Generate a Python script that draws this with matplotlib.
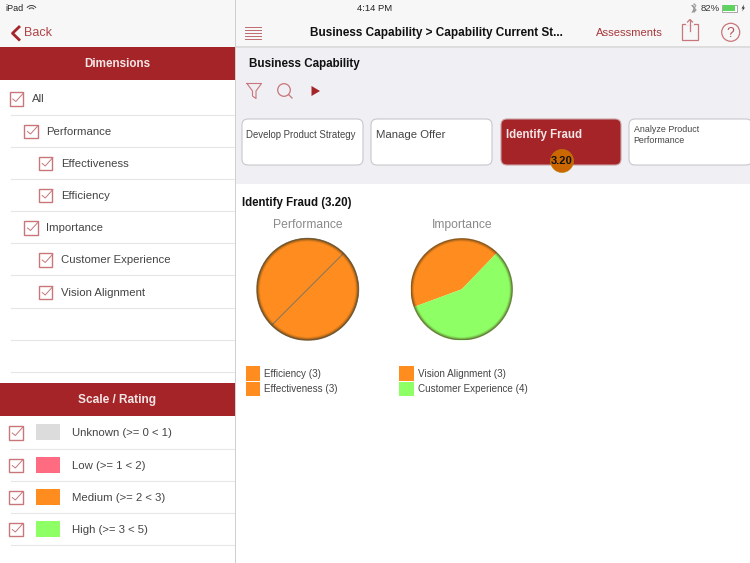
import matplotlib
matplotlib.use("Agg")
import matplotlib.pyplot as plt
from matplotlib.patches import Rectangle, FancyBboxPatch, Circle, Polygon, Wedge

plt.rcParams['font.family'] = ['Liberation Sans', 'DejaVu Sans']

RED = '#A52428'
ORANGE = '#FF8C1E'
GREEN = '#8FFF66'
PINK = '#FF6B81'
GREY = '#DCDCDC'
TEXT = '#444444'
SOFT = '#C8767A'

dimension_labels = ['All', 'Performance', 'Effectiveness', 'Efficiency', 'Importance',
                    'Customer Experience', 'Vision Alignment']
dimension_levels = [0, 1, 2, 2, 1, 2, 2]
scale_labels = ['Unknown (>= 0 < 1)', 'Low (>= 1 < 2)', 'Medium (>= 2 < 3)', 'High (>= 3 < 5)']
scale_colors = [GREY, PINK, ORANGE, GREEN]
card_labels = ['Develop Product Strategy', 'Manage Offer', 'Identify Fraud',
               'Analyze Product\nPerformance']
perf_labels = ['Efficiency', 'Effectiveness']
perf_values = [3, 3]
imp_labels = ['Vision Alignment', 'Customer Experience']
imp_values = [3, 4]
score = 3.20

fig = plt.figure(figsize=(7.5, 5.63), dpi=100, facecolor='white')
ax = fig.add_axes([0, 0, 1, 1])
ax.set_xlim(0, 750)
ax.set_ylim(563, 0)
ax.axis('off')


def rect(x0, y0, x1, y1, c, z=1, **k):
    ax.add_patch(Rectangle((x0, y0), x1 - x0, y1 - y0, facecolor=c, edgecolor='none', zorder=z, **k))


def label(x, y, s, size=8.2, color=TEXT, weight='normal', ha='left', z=5, **k):
    ax.text(x, y + 0.8, s, fontsize=size, color=color, fontweight=weight, ha=ha, va='center', zorder=z, **k)


def checkbox(x, y):
    ax.add_patch(Rectangle((x, y - 6.5), 13.5, 13.5, facecolor='white', edgecolor=SOFT, lw=1, zorder=3))
    ax.plot([x + 3.3, x + 6.3, x + 14], [y + 0.5, y + 3, y - 5.5], color=SOFT, lw=0.7, zorder=4)


# chrome
rect(0, 0, 750, 47, '#F7F7F7')
rect(235, 47, 750, 184, '#EFEFF4')
rect(235, 46, 750, 47.5, '#DDDDDD', z=2)
rect(234.5, 0, 236, 563, '#CFCFCF', z=6)

# status bar
label(5, 7.5, 'iPad', size=6.5, color='#222222')
ax.add_patch(Wedge((31.5, 11), 6, 215, 325, width=1, facecolor='#444444', edgecolor='none', zorder=5))
ax.add_patch(Wedge((31.5, 11), 3.6, 215, 325, width=1, facecolor='#444444', edgecolor='none', zorder=5))
label(375, 7.5, '4:14 PM', size=6.8, color='#222222', ha='center')
label(710.5, 7.5, '82%', size=6.8, color='#333333', ha='center')
ax.plot([692, 696, 692, 696, 694, 694, 696, 692], [5.5, 10, 12.5, 5.5, 3.5, 12.5, 10, 5.5][:8],
        color='#999999', lw=0.6, zorder=5)
ax.add_patch(Rectangle((722, 4.5), 15, 7, facecolor='white', edgecolor='#888888', lw=0.5, zorder=3))
rect(722.5, 5, 734.5, 11, '#5FD35F', z=4)
ax.add_patch(Polygon([[744, 4.5], [741.5, 8.5], [743, 8.5], [742, 11.5], [745, 7.5], [743.5, 7.5]],
                     closed=True, facecolor='#333333', edgecolor='none', zorder=5))

# left nav
ax.plot([19, 12.5, 19], [27, 33.3, 39.6], color=RED, lw=2, zorder=5)
label(24, 32.5, 'Back', size=9, color=RED, alpha=0.85)

# Dimensions panel
rect(0, 47, 235, 80, RED, z=2)
label(117.5, 63.5, 'Dimensions', size=8.4, color='#F4E6E6', weight='bold', ha='center')
rows_y = [98.5, 131, 163, 195, 227.5, 259.5, 292]
for y, s, lv in zip(rows_y, dimension_labels, dimension_levels):
    x = 9.5 + lv * 14.7
    checkbox(x, y)
    label(x + 22, y, s)
for y in [114.5, 146.5, 179, 211, 243, 275, 307.5, 340, 372]:
    ax.plot([11, 234], [y, y], color='#E6E6E6', lw=0.8, zorder=2)

# Scale panel
rect(0, 383, 235, 416, RED, z=2)
label(117.5, 399.5, 'Scale / Rating', size=8.6, color='#F4E6E6', weight='bold', ha='center')
scale_y = [432.5, 465, 497, 529]
for y, s, c in zip(scale_y, scale_labels, scale_colors):
    checkbox(9, y)
    rect(36, y - 8.5, 60, y + 7.5, c, z=3)
    label(72, y, s)
for y in [448.5, 481, 513, 545]:
    ax.plot([11, 234], [y, y], color='#E6E6E6', lw=0.8, zorder=2)

# top bar
for y in [27, 30, 33, 36, 39]:
    ax.plot([245, 261], [y, y], color='#BF6A6E', lw=0.7, zorder=5)
label(436, 32, 'Business Capability > Capability Current St...', size=8.5, color='#111111',
      weight='bold', ha='center')
label(629, 32.2, 'Assessments', size=8.1, color='#A8383C', ha='center')
ax.add_patch(Rectangle((681.5, 24), 16, 16, facecolor='none', edgecolor=SOFT, lw=0.9, zorder=5))
rect(686, 23, 694, 25, '#F7F7F7', z=6)
ax.plot([690, 690], [19.5, 31], color=SOFT, lw=0.9, zorder=7)
ax.plot([687.5, 690, 692.5], [22, 19.5, 22], color=SOFT, lw=0.9, zorder=7)
ax.add_patch(Circle((730.7, 32.3), 9, facecolor='none', edgecolor=SOFT, lw=0.9, zorder=5))
label(730.7, 32, '?', size=10, color='#B5575B', ha='center')

# toolbar
label(249, 63.5, 'Business Capability', size=8.4, color='#111111', weight='bold')
ax.plot([247, 261.5, 256, 256, 252.5, 252.5, 247], [83.5, 83.5, 91, 98.5, 96, 91, 83.5],
        color=SOFT, lw=0.8, zorder=5)
ax.add_patch(Circle((284, 90), 6.3, facecolor='none', edgecolor=SOFT, lw=0.9, zorder=5))
ax.plot([288.5, 292], [94.5, 98], color=SOFT, lw=0.9, zorder=5)
ax.add_patch(Polygon([[311.5, 86], [320, 91], [311.5, 96]], closed=True, facecolor=RED, edgecolor='none', zorder=5))

# cards
card_x = [(242, 363), (371, 492), (501, 621), (629, 752)]
card_size = [6.9, 8.2, 8.3, 6.4]
for i, (s, (x0, x1), fs) in enumerate(zip(card_labels, card_x, card_size)):
    sel = i == 2
    ax.add_patch(FancyBboxPatch((x0 + 6, 125), x1 - x0 - 12, 34, boxstyle='round,pad=6,rounding_size=6',
                                facecolor=RED if sel else 'white',
                                edgecolor='#C9A0A2' if sel else '#C8C8CC', lw=0.8, zorder=3))
    ax.text(x0 + 4.5, 135, s, fontsize=fs, color='#F4E6E6' if sel else TEXT,
            fontweight='bold' if sel else 'normal', ha='left', va='center', zorder=5, linespacing=1.4)
ax.add_patch(Circle((562, 161), 11.5, facecolor='#CC6600', edgecolor='#B8860B', lw=0.4, zorder=6))
label(561.5, 160.7, f'{score:.2f}', size=8, color='#111111', weight='bold', ha='center', z=7)

# detail title
label(242, 202.5, f'Identify Fraud ({score:.2f})', size=8.3, color='#111111', weight='bold')


def pie(cx, cy, r, values, colors, start, title, wedge_lw):
    a = fig.add_axes([(cx - r) / 750, 1 - (cy + r) / 563, 2 * r / 750, 2 * r / 563])
    a.pie(values, colors=colors, startangle=start, counterclock=True, radius=1,
          wedgeprops=dict(edgecolor='#8A7A60', linewidth=wedge_lw))
    a.set_xlim(-1, 1)
    a.set_ylim(-1, 1)
    a.set_aspect('equal')
    a.axis('off')
    for p in a.patches:
        p.set_clip_on(False)
    for rad, al, lw in [(0.99, 0.6, 1.0), (0.97, 0.3, 1.0), (0.95, 0.12, 1.0)]:
        a.add_patch(Circle((0, 0), rad, facecolor='none', edgecolor='#4A3A18', lw=lw, alpha=al, zorder=5))
    label(cx, 224.5, title, size=8.7, color='#8A8A8A', ha='center')


pie(307.7, 289.3, 51, perf_values, [ORANGE, ORANGE], 45, 'Performance', 0.7)
pie(461.7, 289.3, 51, imp_values, [ORANGE, GREEN], 46, 'Importance', 0)

# legends
for x0, labs, vals, cols in [(245.5, perf_labels, perf_values, [ORANGE, ORANGE]),
                             (399, imp_labels, imp_values, [ORANGE, GREEN])]:
    for y, s, v, c in zip([373.5, 389], labs, vals, cols):
        rect(x0, y - 7.3, x0 + 14.5, y + 7.3, c, z=3)
        label(x0 + 18.5, y - 0.5, f'{s} ({v})', size=7.1)

fig.savefig('out.png', dpi=100, facecolor='white')
